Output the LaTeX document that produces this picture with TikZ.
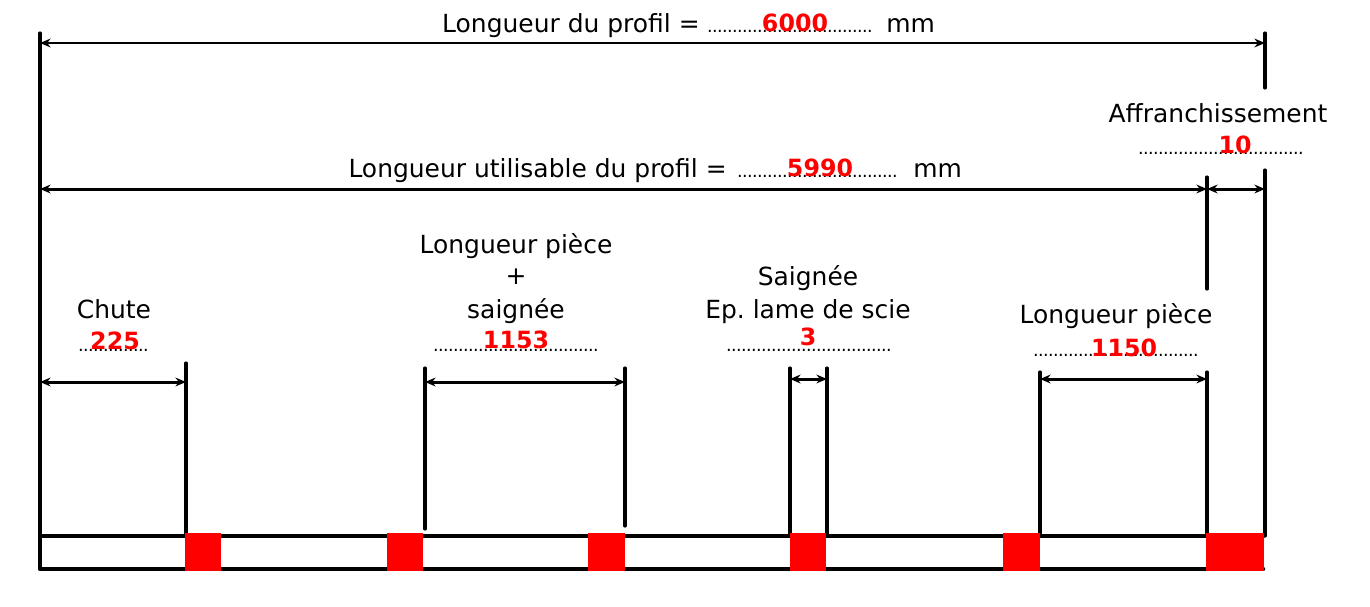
\documentclass[tikz,border=0pt]{standalone}
\usepackage{fontspec}
\setmainfont{DejaVu Sans}
\usepackage{xcolor}
\usetikzlibrary{arrows.meta}
\newcommand{\pointilles}[1]{{\fontsize{10}{10}\selectfont\foreach \k in {1,...,#1}{\hbox to 0.1cm{\hss.\hss}}}}
\tikzset{
  texte/.style={font=\fontsize{14.2}{18}\selectfont, inner sep=0pt, anchor=base},
  valeur/.style={font=\fontsize{13.5}{14}\selectfont\bfseries, text=red, inner sep=0pt, anchor=base},
  pts/.style={inner sep=0pt, anchor=base west},
  trait/.style={line width=1.8pt},
  cote/.style={line width=1.7pt, {Stealth[length=6pt,width=5pt]}-{Stealth[length=6pt,width=5pt]}}
}
\begin{document}
\begin{tikzpicture}[line cap=round,line join=round,x=0.02cm,y=-0.02cm]
                \useasboundingbox (0,0) rectangle (1370,606);
                \draw [trait] (40,33)-- (40,569);
                \draw [trait] (1265,33)-- (1265,88);
                \draw [trait] (1265,170)-- (1265,536);
                \draw [trait] (1207,177)-- (1207,289);
                \draw [trait] (1207,372)-- (1207,536);
                \draw [trait] (186,363)-- (186,536);
                \draw [trait] (425,368)-- (425,529);
                \draw [trait] (625,368)-- (625,526);
                \draw [trait] (790,368)-- (790,536);
                \draw [trait] (827,368)-- (827,536);
                \draw [trait] (1040,372)-- (1040,536);
                \draw [cote] (40,43)-- (1265,43);
                \draw [cote] (40,189)-- (1207,189);
                \draw [cote] (1207,189)-- (1265,189);
                \draw [cote] (40,382)-- (186,382);
                \draw [cote] (425,382)-- (625,382);
                \draw [cote] (790,379)-- (827,379);
                \draw [cote] (1040,379)-- (1207,379);
                \draw [line width=2.6pt] (1263,536)-- (40,536)-- (40,569)-- (1263,569);
                \fill [red] (185,533) rectangle (221,571);
                \fill [red] (387,533) rectangle (423,571);
                \fill [red] (588,533) rectangle (625,571);
                \fill [red] (790,533) rectangle (826,571);
                \fill [red] (1003,533) rectangle (1040,571);
                \fill [red] (1206,533) rectangle (1264,571);
                \begin{scope}
                    \node[texte, anchor=base east] (lgProfil) at (700,32) {Longueur du profil =};
                    \node[pts] (lgProfilPts) at (707,32) {\pointilles{33}};
                    \node[texte, anchor=base west] (lgProfilMm) at (886,32) {mm};
                    \node[valeur] (lgProfilVal) at (795,31) {6000};
                    \node[texte, anchor=base east] (lgUtil) at (727,177) {Longueur utilisable du profil =};
                    \node[pts] (lgUtilPts) at (737,177) {\pointilles{32}};
                    \node[texte, anchor=base west] (lgUtilMm) at (913,177) {mm};
                    \node[valeur] (lgUtilVal) at (820,176) {5990};
                    \node[texte] (affr) at (1218,122) {Affranchissement};
                    \node[pts] (affrPts) at (1138,154) {\pointilles{33}};
                    \node[valeur] (affrVal) at (1235,153) {10};
                    \node[texte] (chute) at (114,318) {Chute};
                    \node[pts] (chutePts) at (78,351) {\pointilles{14}};
                    \node[valeur] (chuteVal) at (115,349) {225};
                    \node[texte] (pieceSaiA) at (516,253) {Longueur pièce};
                    \node[texte] (pieceSaiB) at (516,284) {+};
                    \node[texte] (pieceSaiC) at (516,318) {saignée};
                    \node[pts] (pieceSaiPts) at (433,351) {\pointilles{33}};
                    \node[valeur] (pieceSaiVal) at (516,348) {1153};
                    \node[texte] (saignA) at (808,285) {Saignée};
                    \node[texte] (saignB) at (808,318) {Ep.\ lame de scie};
                    \node[pts] (saignPts) at (726,351) {\pointilles{33}};
                    \node[valeur] (saignVal) at (808,345) {3};
                    \node[texte] (piece) at (1116,323) {Longueur pièce};
                    \node[pts] (piecePts) at (1033,356) {\pointilles{33}};
                    \node[valeur] (pieceVal) at (1124,356) {1150};
                \end{scope}
            \end{tikzpicture}
\end{document}
